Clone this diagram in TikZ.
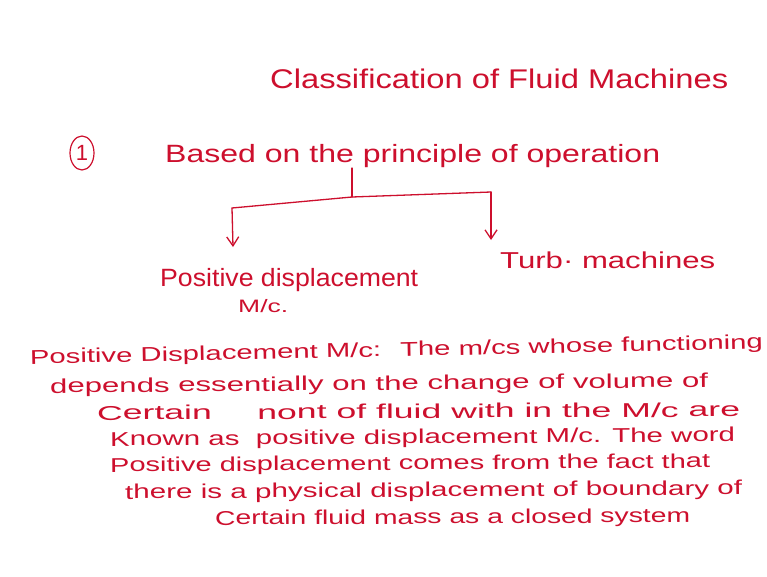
\documentclass[tikz,border=0pt]{standalone}
\usepackage{fontspec}
\setmainfont{Liberation Sans}
\usetikzlibrary{arrows.meta,shapes.geometric}
\definecolor{ink}{RGB}{205,15,45}
\newcommand\hw[2]{\resizebox{#1pt}{\height}{#2}}
\begin{document}
\begin{tikzpicture}[x=1pt,y=-1pt,
  txt/.style={anchor=base west, inner sep=0pt, text=ink, font=\fontsize{20}{24}\selectfont},
  link/.style={draw=ink, line width=1.3pt, line cap=round, line join=round},
  tip/.style={-{Straight Barb[length=9pt,width=12pt,line width=1.3pt]}}]
\useasboundingbox[fill=white] (0,0) rectangle (767,576);
% title
\node[txt, font=\fontsize{27}{30}\selectfont] (title) at (270,88) {\hw{458}{Classification of Fluid Machines}};
% item 1
\node[draw=ink, line width=1.2pt, ellipse, minimum width=24pt, minimum height=34pt, inner sep=0pt, text=ink, font=\fontsize{22}{24}\selectfont] (one) at (82,153) {1};
\node[txt, font=\fontsize{25}{28}\selectfont] (based) at (165,162) {\hw{495}{Based on the principle of operation}};
% tree
\coordinate (stemtop) at (352,168);
\coordinate (junc) at (352,197);
\coordinate (lcorner) at (232,208);
\coordinate (rcorner) at (491,192);
\coordinate (ltip) at (233,247);
\coordinate (rtip) at (491,240);
\draw[link] (stemtop) -- (junc);
\draw[link] (lcorner) -- (junc) -- (rcorner);
\draw[link, tip] (lcorner) -- (ltip);
\draw[link, tip] (rcorner) -- (rtip);
\node[txt, font=\fontsize{25}{28}\selectfont] (pd) at (160,286) {\hw{258}{Positive displacement}};
\node[txt, font=\fontsize{18}{20}\selectfont] (mc) at (238,312) {\hw{50}{M/c.}};
\node[txt, font=\fontsize{23}{26}\selectfont] (turb) at (500,268) {\hw{215}{Turb· machines}};
% paragraph
\node[txt, rotate=1.2] (p1) at (30,364) {\hw{733}{Positive Displacement M/c: \ The m/cs whose functioning}};
\node[txt, rotate=0.5] (p2) at (50,393) {\hw{658}{depends essentially on the change of volume of}};
\node[txt, rotate=0.3] (p3) at (97,420) {\hw{643}{Certain \quad nont of fluid with in the M/c are}};
\node[txt, rotate=0.4] (p4) at (110,446) {\hw{625}{Known as \ positive displacement M/c. The word}};
\node[txt, rotate=0.4] (p5) at (110,472) {\hw{600}{Positive displacement comes from the fact that}};
\node[txt, rotate=0.4] (p6) at (125,499) {\hw{617}{there is a physical displacement of boundary of}};
\node[txt, rotate=0.3] (p7) at (215,525) {\hw{475}{Certain fluid mass as a closed system}};
\end{tikzpicture}
\end{document}
